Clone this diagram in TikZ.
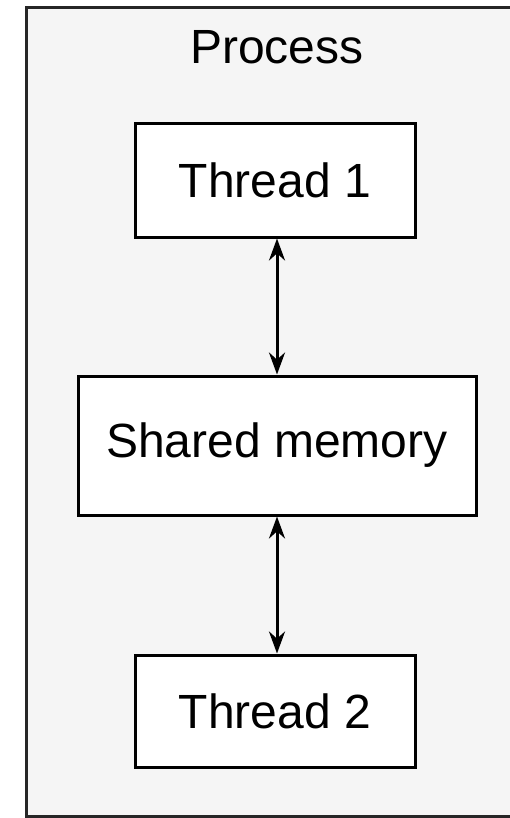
\documentclass[tikz,border=0pt]{standalone}
\usepackage{fontspec}
\setmainfont{Liberation Sans}
\usetikzlibrary{arrows.meta}
\begin{document}
\begin{tikzpicture}[x=1pt,y=-1pt,
  every node/.style={font=\fontsize{48}{56}\selectfont},
  box/.style={draw=black,line width=3pt,fill=white,inner sep=0pt},
  link/.style={line width=3pt,{Stealth[length=22pt,width=16pt]}-{Stealth[length=22pt,width=16pt]}}]
  \useasboundingbox (0,0) rectangle (509,818);
  % process frame
  \draw[line width=3pt,fill=black!4,draw=black!85] (26.5,8) rectangle (520,816.5);
  \node (proc) at (277,47.5) {Process};
  \node[box,minimum width=280pt,minimum height=113pt] (t1) at (275,180.5) {Thread 1};
  \node[box,minimum width=398pt,minimum height=139pt] (mem) at (277,445.5) {Shared memory};
  \node[box,minimum width=280pt,minimum height=112pt] (t2) at (275,711) {Thread 2};
  \draw[link] (t1.south -| mem.north) -- (mem.north);
  \draw[link] (mem.south) -- (t2.north -| mem.south);
\end{tikzpicture}
\end{document}
